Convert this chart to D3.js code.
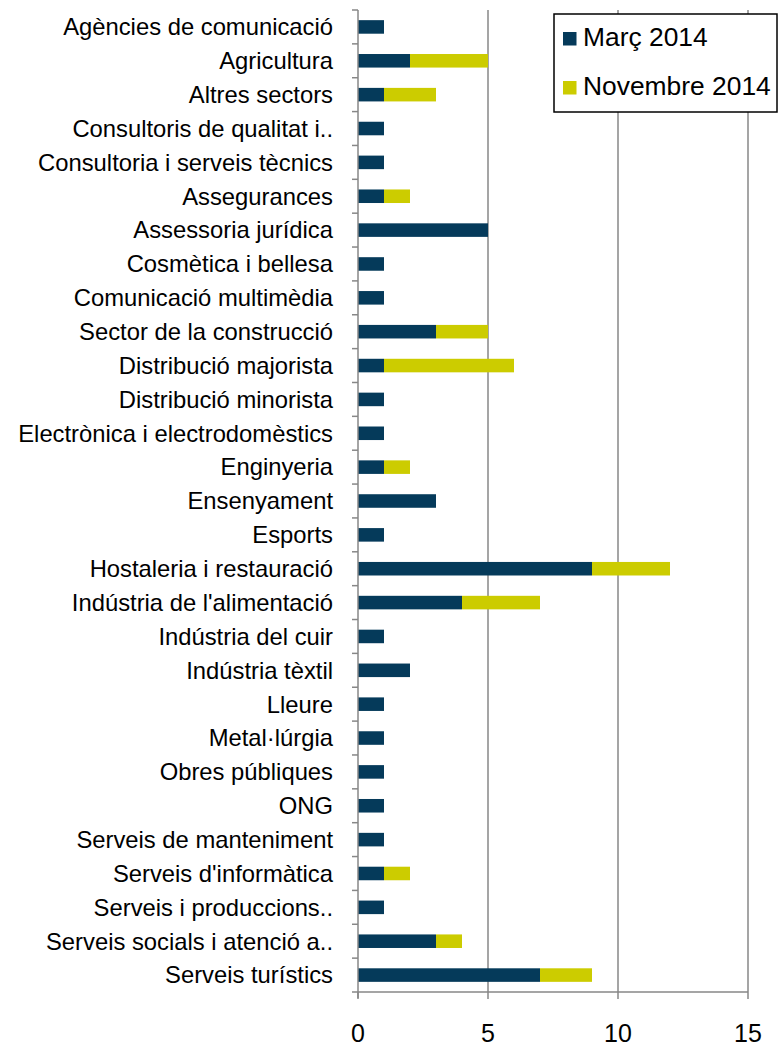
<!DOCTYPE html>
<html>
<head>
<meta charset="utf-8">
<script src="https://cdn.jsdelivr.net/npm/d3@7"></script>
<style>
  body { margin: 0; background: #fff; }
  svg { display: block; font-family: "Liberation Sans", Arial, sans-serif; }
</style>
</head>
<body>
<div id="chart"></div>
<script>
const categories = [
  "Agències de comunicació", "Agricultura", "Altres sectors", "Consultoris de qualitat i..",
  "Consultoria i serveis tècnics", "Assegurances", "Assessoria jurídica", "Cosmètica i bellesa",
  "Comunicació multimèdia", "Sector de la construcció", "Distribució majorista", "Distribució minorista",
  "Electrònica i electrodomèstics", "Enginyeria", "Ensenyament", "Esports",
  "Hostaleria i restauració", "Indústria de l'alimentació", "Indústria del cuir", "Indústria tèxtil",
  "Lleure", "Metal·lúrgia", "Obres públiques", "ONG",
  "Serveis de manteniment", "Serveis d'informàtica", "Serveis i produccions..",
  "Serveis socials i atenció a..", "Serveis turístics"
];
const marc2014 =      [1, 2, 1, 1, 1, 1, 5, 1, 1, 3, 1, 1, 1, 1, 3, 1, 9, 4, 1, 2, 1, 1, 1, 1, 1, 1, 1, 3, 7];
const novembre2014 =  [0, 3, 2, 0, 0, 1, 0, 0, 0, 2, 5, 0, 0, 1, 0, 0, 3, 3, 0, 0, 0, 0, 0, 0, 0, 1, 0, 1, 2];
const seriesNames = ["Març 2014", "Novembre 2014"];
const seriesColors = ["#053a5a", "#cccc00"];
const xTicks = [0, 5, 10, 15];

const W = 778, H = 1046;
const mLeft = 358, mRight = 748, mTop = 10, mBottom = 992;

const rows = categories.map((c, i) => ({ cat: c, a: marc2014[i], b: novembre2014[i] }));
const stacked = d3.stack().keys(["a", "b"])(rows);

const x = d3.scaleLinear().domain([0, 15]).range([mLeft, mRight]);
const y = d3.scaleBand().domain(categories).range([mTop, mBottom]).paddingInner(0.6).paddingOuter(0.3);
const yTicks = d3.scaleBand().domain(categories).range([mTop, mBottom]);

const svg = d3.select("#chart").append("svg")
  .attr("width", W).attr("height", H);

// gridlines
svg.append("g").selectAll("line")
  .data(xTicks.filter(d => d > 0))
  .join("line")
  .attr("x1", d => x(d)).attr("x2", d => x(d))
  .attr("y1", mTop).attr("y2", mBottom)
  .attr("stroke", "#878787").attr("stroke-width", 1.5);

// bars
svg.append("g").selectAll("g")
  .data(stacked)
  .join("g")
  .attr("fill", (d, i) => seriesColors[i])
  .selectAll("rect")
  .data(d => d)
  .join("rect")
  .attr("x", d => x(d[0]))
  .attr("width", d => x(d[1]) - x(d[0]))
  .attr("y", d => y(d.data.cat))
  .attr("height", y.bandwidth());

// y axis line + ticks
const axisColor = "#878787";
svg.append("line")
  .attr("x1", mLeft).attr("x2", mLeft).attr("y1", mTop).attr("y2", mBottom + 6)
  .attr("stroke", axisColor).attr("stroke-width", 1.5);
svg.append("g").selectAll("line")
  .data(categories.concat(["end"]))
  .join("line")
  .attr("x1", mLeft - 6).attr("x2", mLeft)
  .attr("y1", (d, i) => mTop + i * yTicks.step())
  .attr("y2", (d, i) => mTop + i * yTicks.step())
  .attr("stroke", axisColor).attr("stroke-width", 1.5);

// x axis line + ticks
svg.append("line")
  .attr("x1", mLeft).attr("x2", mRight).attr("y1", mBottom).attr("y2", mBottom)
  .attr("stroke", axisColor).attr("stroke-width", 1.5);
svg.append("g").selectAll("line")
  .data(xTicks)
  .join("line")
  .attr("x1", d => x(d)).attr("x2", d => x(d))
  .attr("y1", mBottom).attr("y2", mBottom + 7)
  .attr("stroke", axisColor).attr("stroke-width", 1.5);

// category labels
svg.append("g").selectAll("text")
  .data(categories)
  .join("text")
  .attr("x", 333)
  .attr("y", d => y(d) + y.bandwidth() / 2)
  .attr("dy", "0.35em")
  .attr("text-anchor", "end")
  .attr("font-size", 23.8)
  .attr("fill", "#000")
  .text(d => d);

// x tick labels
svg.append("g").selectAll("text")
  .data(xTicks)
  .join("text")
  .attr("x", d => x(d))
  .attr("y", 1042)
  .attr("text-anchor", "middle")
  .attr("font-size", 25)
  .attr("fill", "#000")
  .text(d => d);

// legend
const lg = svg.append("g");
lg.append("rect")
  .attr("x", 554).attr("y", 14).attr("width", 223).attr("height", 98)
  .attr("fill", "#fff").attr("stroke", "#000").attr("stroke-width", 1.5);
const items = lg.selectAll("g.item")
  .data(seriesNames)
  .join("g").attr("class", "item")
  .attr("transform", (d, i) => `translate(563,${32 + i * 49})`);
items.append("rect")
  .attr("width", 13.5).attr("height", 13.5)
  .attr("fill", (d, i) => seriesColors[i]);
items.append("text")
  .attr("x", 20).attr("y", 14)
  .attr("font-size", 26.4)
  .attr("fill", "#000")
  .text(d => d);
</script>
</body>
</html>
